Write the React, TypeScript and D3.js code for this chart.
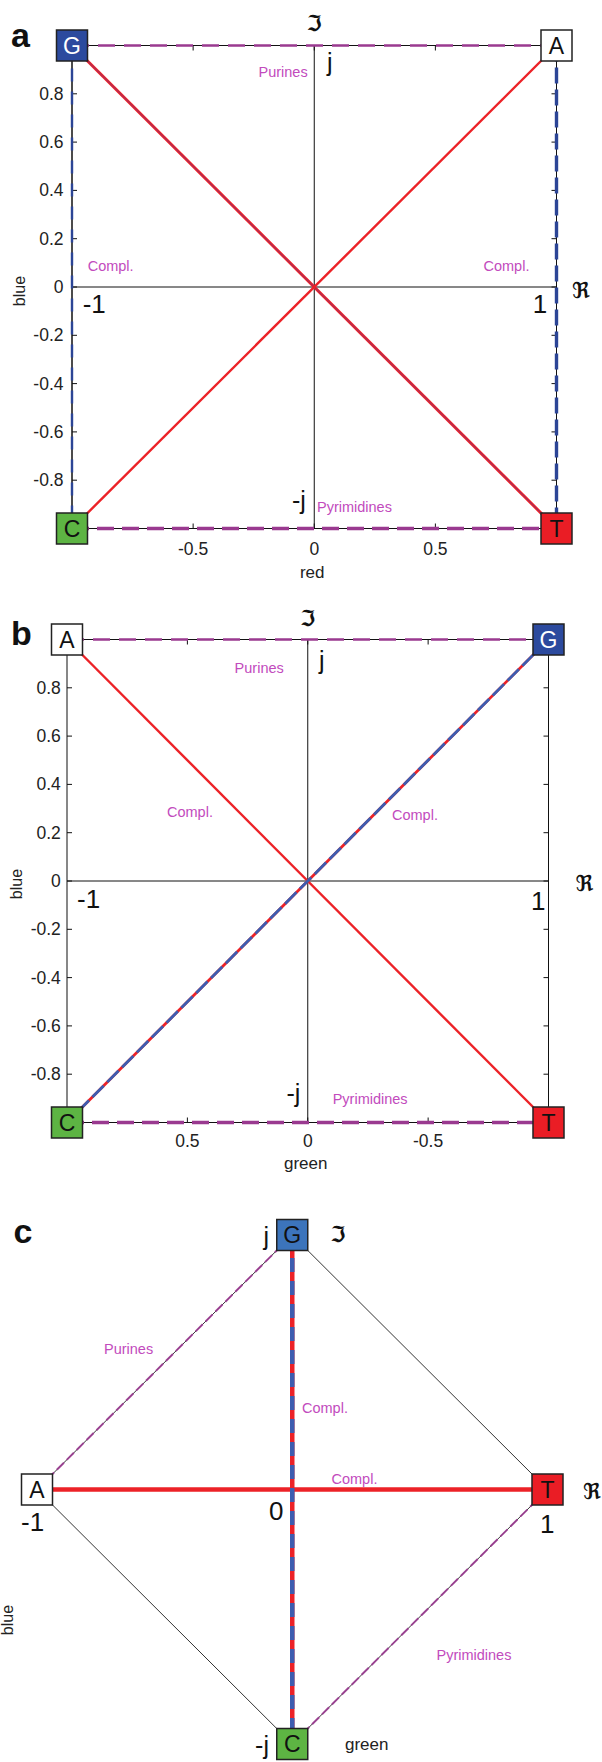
import React from "react";
import * as d3 from "d3";

// ---------- data ----------
// panel a: red (Re) vs blue (Im)
const verticesA = [
  { base: "G", x: -1, y: 1 },
  { base: "A", x: 1, y: 1 },
  { base: "C", x: -1, y: -1 },
  { base: "T", x: 1, y: -1 },
];
const edgesA = [
  { from: "G", to: "A", kind: "purines" },
  { from: "C", to: "T", kind: "pyrimidines" },
  { from: "G", to: "C", kind: "blueSide" },
  { from: "A", to: "T", kind: "blueSideBold" },
  { from: "G", to: "T", kind: "complMixedA" },
  { from: "A", to: "C", kind: "compl" },
];
// panel b: green (Re, reversed) vs blue (Im)
const verticesB = [
  { base: "A", x: 1, y: 1 },
  { base: "G", x: -1, y: 1 },
  { base: "C", x: 1, y: -1 },
  { base: "T", x: -1, y: -1 },
];
const edgesB = [
  { from: "A", to: "G", kind: "purines" },
  { from: "C", to: "T", kind: "pyrimidines" },
  { from: "A", to: "T", kind: "compl" },
  { from: "G", to: "C", kind: "complMixed" },
];
// panel c: complex plane diamond
const verticesC = [
  { base: "A", x: -1, y: 0 },
  { base: "G", x: 0, y: 1 },
  { base: "T", x: 1, y: 0 },
  { base: "C", x: 0, y: -1 },
];
const edgesC = [
  { from: "A", to: "C", kind: "thin" },
  { from: "G", to: "T", kind: "thin" },
  { from: "A", to: "G", kind: "purinesThin" },
  { from: "C", to: "T", kind: "pyrimidinesThin" },
  { from: "A", to: "T", kind: "complThick" },
  { from: "G", to: "C", kind: "complMixedThick" },
];

const yTicks = [0.8, 0.6, 0.4, 0.2, 0, -0.2, -0.4, -0.6, -0.8];
const xTicksA = [-0.5, 0, 0.5];
const xTicksB = [0.5, 0, -0.5];

// ---------- styles ----------
const FONT = "'Liberation Sans', Arial, sans-serif";
const FRAK = "'DejaVu Serif', 'DejaVu Sans', serif";
const MAGENTA_TXT = "#c24bbd";
const PURPLE = "#9a3a90";
const NAVY = "#2c4596";
const RED = "#ec2227";
const BLUE = "#3d5db0";

const squareFill = (base: string, panel: string) => {
  if (base === "G") return panel === "c" ? "#3c74bb" : "#2c4a9e";
  if (base === "A") return "#ffffff";
  if (base === "C") return "#5db443";
  return "#ea1d25";
};

function edgeLines(kind: string, x1: number, y1: number, x2: number, y2: number, key: string) {
  const L = (stroke: string, w: number, dash?: string, op = 1, k = "") => (
    <line key={key + k} x1={x1} y1={y1} x2={x2} y2={y2} stroke={stroke} strokeWidth={w}
      strokeDasharray={dash} opacity={op} />
  );
  switch (kind) {
    case "purines":
      return [L("#111", 1, undefined, 1, "k"), L(PURPLE, 2.6, "17 9", 1, "d")];
    case "pyrimidines":
      return [L("#111", 1, undefined, 1, "k"), L(PURPLE, 3.6, "17 8", 1, "d")];
    case "blueSide":
      return [L("#111", 1, undefined, 1, "k"), L(NAVY, 2.4, "13 10", 1, "d")];
    case "blueSideBold":
      return [L("#111", 1, undefined, 1, "k"), L(NAVY, 3.4, "16 6", 1, "d")];
    case "compl":
      return [L(RED, 2.4, undefined, 1, "r")];
    case "complMixedA":
      return [L(RED, 3, undefined, 1, "r"), L("#5a3f9a", 1, undefined, 0.65, "b")];
    case "complMixed":
      return [L(RED, 2.8, undefined, 1, "r"), L(BLUE, 2.8, "16 5", 1, "b")];
    case "thin":
      return [L("#333", 1, undefined, 1, "k")];
    case "purinesThin":
    case "pyrimidinesThin":
      return [L("#333", 1, undefined, 1, "k"), L(PURPLE, 2, "10 4", 0.9, "d")];
    case "complThick":
      return [L(RED, 4.5, undefined, 1, "r")];
    case "complMixedThick":
      return [L(RED, 4.5, undefined, 1, "r"), L(BLUE, 4.5, "14 9", 1, "b")];
  }
  return [];
}

type V = { base: string; x: number; y: number };
type E = { from: string; to: string; kind: string };

function Graph({ vertices, edges, xs, ys, panel }: { vertices: V[]; edges: E[]; xs: any; ys: any; panel: string }) {
  const find = (b: string) => vertices.find((v) => v.base === b)!;
  const S = 31;
  return (
    <g>
      {edges.map((e, i) => {
        const a = find(e.from), b = find(e.to);
        return <g key={"e" + i}>{edgeLines(e.kind, xs(a.x), ys(a.y), xs(b.x), ys(b.y), panel + i)}</g>;
      })}
      {vertices.map((v) => (
        <g key={v.base} transform={`translate(${xs(v.x)},${ys(v.y)})`}>
          <rect x={-S / 2} y={-S / 2} width={S} height={S} fill={squareFill(v.base, panel)} stroke="#222" strokeWidth={1.5} />
          <text x={0} y={8} textAnchor="middle" fontFamily={FONT} fontSize={23}
            fill={v.base === "G" && panel !== "c" ? "#fff" : "#111"}>{v.base}</text>
        </g>
      ))}
    </g>
  );
}

function Frame({ xs, ys, xTicks, tickXLabelY, yLabelX, xTitle, xTitleY, xTitleX, yTitleX, yTitleY }: any) {
  const [x0, x1] = [Math.min(...xs.range()), Math.max(...xs.range())];
  const [yb, yt] = [ys(-1), ys(1)];
  const T = 5;
  return (
    <g>
      <rect x={x0} y={yt} width={x1 - x0} height={yb - yt} fill="none" stroke="#111" strokeWidth={1} />
      <line x1={xs(0)} x2={xs(0)} y1={yt} y2={yb} stroke="#111" strokeWidth={1} />
      <line x1={x0} x2={x1} y1={ys(0)} y2={ys(0)} stroke="#111" strokeWidth={1} />
      {xTicks.map((t: number) => (
        <g key={"xt" + t}>
          <line x1={xs(t)} x2={xs(t)} y1={yt} y2={yt + T} stroke="#111" />
          <line x1={xs(t)} x2={xs(t)} y1={yb} y2={yb - T} stroke="#111" />
          <text x={xs(t)} y={tickXLabelY} textAnchor="middle" fontFamily={FONT} fontSize={17.5} fill="#222">{String(t)}</text>
        </g>
      ))}
      {yTicks.map((t) => (
        <g key={"yt" + t}>
          <line x1={x0} x2={x0 + T} y1={ys(t)} y2={ys(t)} stroke="#111" />
          <line x1={x1} x2={x1 - T} y1={ys(t)} y2={ys(t)} stroke="#111" />
          <text x={yLabelX} y={ys(t) + 6} textAnchor="end" fontFamily={FONT} fontSize={17.5} fill="#222">{String(t)}</text>
        </g>
      ))}
      <text x={xTitleX} y={xTitleY} textAnchor="middle" fontFamily={FONT} fontSize={17} fill="#222">{xTitle}</text>
      <text transform={`translate(${yTitleX},${yTitleY}) rotate(-90)`} textAnchor="middle" fontFamily={FONT} fontSize={16} fill="#222">blue</text>
    </g>
  );
}

const Txt = ({ x, y, children, size = 14.5, color = MAGENTA_TXT, anchor = "start", weight = "normal", family = FONT }: any) => (
  <text x={x} y={y} fontFamily={family} fontSize={size} fill={color} textAnchor={anchor} fontWeight={weight}>{children}</text>
);

export default function App() {
  const xA = d3.scaleLinear().domain([-1, 1]).range([72, 556.5]);
  const yA = d3.scaleLinear().domain([-1, 1]).range([528.5, 45.5]);
  const xB = d3.scaleLinear().domain([1, -1]).range([67, 548.5]);
  const yB = d3.scaleLinear().domain([-1, 1]).range([1122.5, 639.5]);
  const xC = d3.scaleLinear().domain([-1, 1]).range([37, 547.5]);
  const yC = d3.scaleLinear().domain([-1, 1]).range([1744, 1235]);

  return (
    <svg width={602} height={1762} style={{ position: "absolute", left: 0, top: 0, background: "#fff" }}>
      <rect x={0} y={0} width={602} height={1762} fill="#fff" />
      {/* ---------- panel a ---------- */}
      <Frame xs={xA} ys={yA} xTicks={xTicksA} tickXLabelY={555} yLabelX={63.5}
        xTitle="red" xTitleX={xA(0) - 2} xTitleY={578} yTitleX={25} yTitleY={291} />
      <Graph vertices={verticesA} edges={edgesA} xs={xA} ys={yA} panel="a" />
      <Txt x={11} y={47} size={34} weight="bold" color="#111">a</Txt>
      <Txt x={xA(0)} y={31} size={22} weight="bold" color="#111" anchor="middle" family={FRAK}>ℑ</Txt>
      <Txt x={581} y={298} size={22} weight="bold" color="#111" anchor="middle" family={FRAK}>ℜ</Txt>
      <Txt x={327} y={71} size={25} color="#111">j</Txt>
      <Txt x={307.7} y={77} anchor="end">Purines</Txt>
      <Txt x={87.7} y={271}>Compl.</Txt>
      <Txt x={483.5} y={271}>Compl.</Txt>
      <Txt x={82.7} y={313} size={26} color="#111">-1</Txt>
      <Txt x={532.7} y={313} size={26} color="#111">1</Txt>
      <Txt x={292} y={509} size={25} color="#111">-j</Txt>
      <Txt x={317} y={512}>Pyrimidines</Txt>

      {/* ---------- panel b ---------- */}
      <Frame xs={xB} ys={yB} xTicks={xTicksB} tickXLabelY={1147} yLabelX={60.8}
        xTitle="green" xTitleX={xB(0) - 2} xTitleY={1169} yTitleX={22} yTitleY={884} />
      <Graph vertices={verticesB} edges={edgesB} xs={xB} ys={yB} panel="b" />
      <Txt x={11} y={645} size={34} weight="bold" color="#111">b</Txt>
      <Txt x={xB(0)} y={626} size={22} weight="bold" color="#111" anchor="middle" family={FRAK}>ℑ</Txt>
      <Txt x={584.5} y={891} size={22} weight="bold" color="#111" anchor="middle" family={FRAK}>ℜ</Txt>
      <Txt x={319} y={669} size={25} color="#111">j</Txt>
      <Txt x={234.6} y={673}>Purines</Txt>
      <Txt x={167} y={817}>Compl.</Txt>
      <Txt x={392} y={820}>Compl.</Txt>
      <Txt x={77} y={908} size={26} color="#111">-1</Txt>
      <Txt x={531} y={910} size={26} color="#111">1</Txt>
      <Txt x={286.5} y={1102} size={25} color="#111">-j</Txt>
      <Txt x={332.7} y={1104}>Pyrimidines</Txt>

      {/* ---------- panel c ---------- */}
      <Graph vertices={verticesC} edges={edgesC} xs={xC} ys={yC} panel="c" />
      <Txt x={13.5} y={1243} size={34} weight="bold" color="#111">c</Txt>
      <Txt x={269} y={1245} size={25} color="#111" anchor="end">j</Txt>
      <Txt x={338} y={1242} size={22} weight="bold" color="#111" anchor="middle" family={FRAK}>ℑ</Txt>
      <Txt x={104} y={1354}>Purines</Txt>
      <Txt x={302} y={1413}>Compl.</Txt>
      <Txt x={331.5} y={1484}>Compl.</Txt>
      <Txt x={269} y={1520} size={26} color="#111">0</Txt>
      <Txt x={21} y={1531} size={26} color="#111">-1</Txt>
      <Txt x={540} y={1533} size={26} color="#111">1</Txt>
      <Txt x={592} y={1499} size={22} weight="bold" color="#111" anchor="middle" family={FRAK}>ℜ</Txt>
      <Txt x={436.5} y={1660}>Pyrimidines</Txt>
      <Txt x={269} y={1754} size={25} color="#111" anchor="end">-j</Txt>
      <Txt x={345} y={1750} size={17} color="#222">green</Txt>
      <text transform="translate(13,1620) rotate(-90)" textAnchor="middle" fontFamily={FONT} fontSize={16} fill="#222">blue</text>
    </svg>
  );
}
